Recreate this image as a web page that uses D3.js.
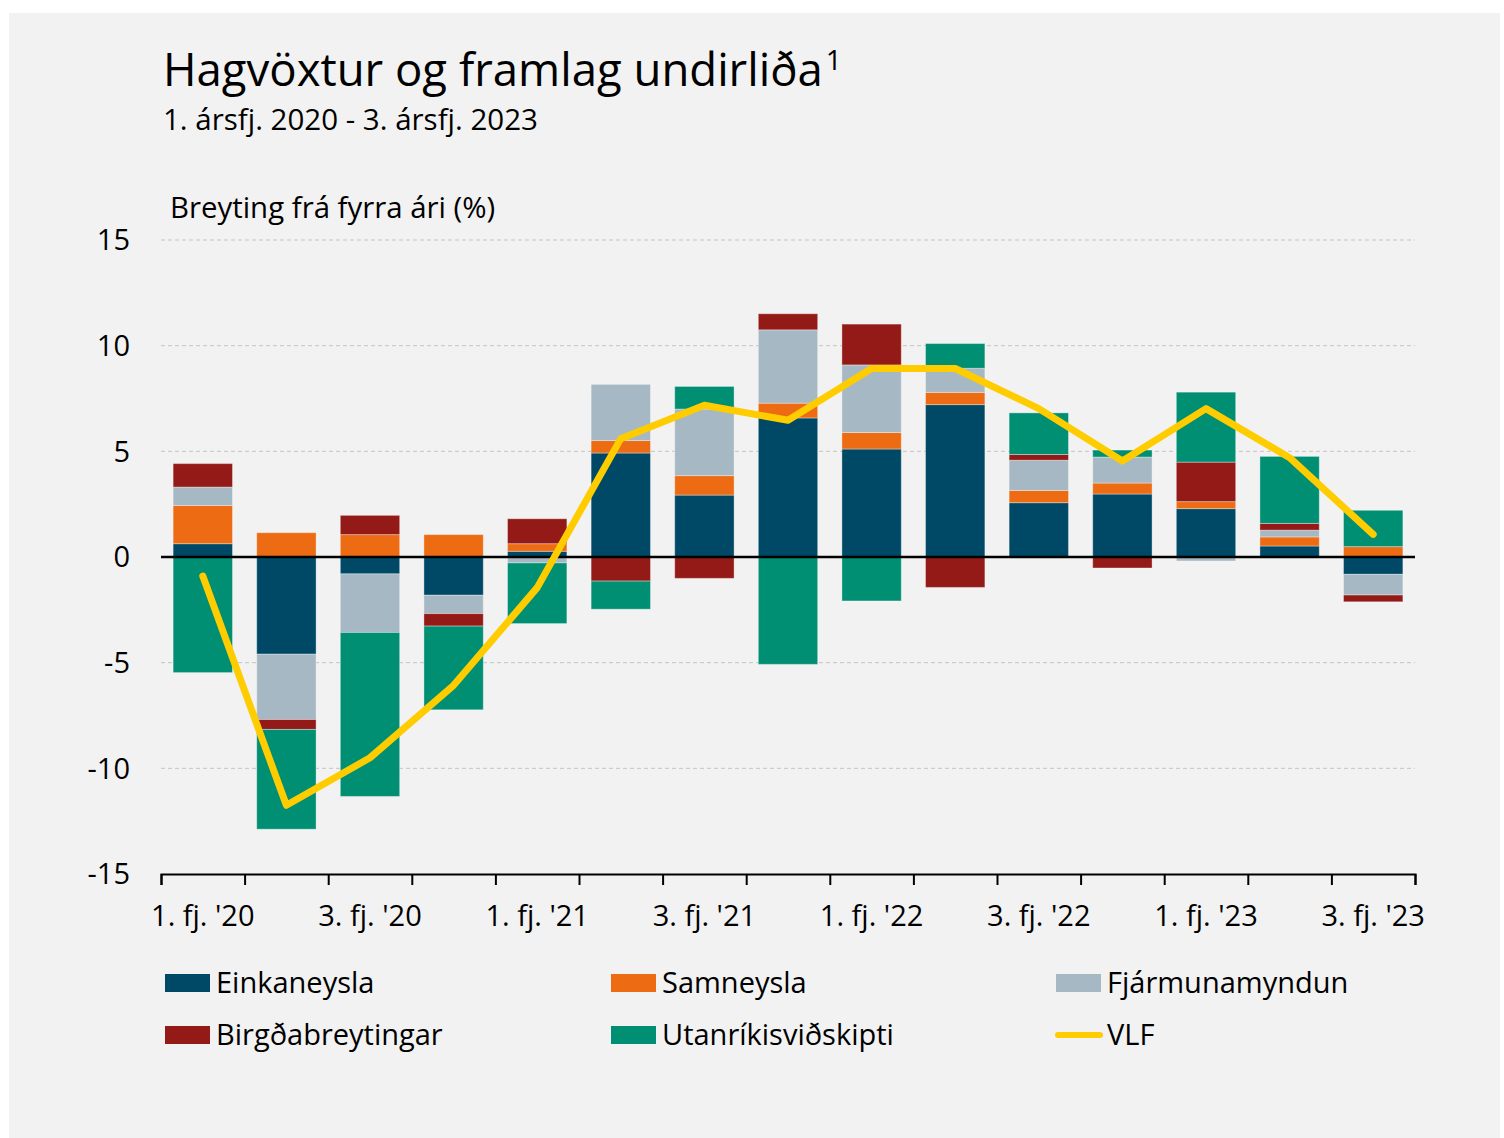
<!DOCTYPE html>
<html>
<head>
<meta charset="utf-8">
<script src="https://cdn.jsdelivr.net/npm/d3@7"></script>
<style>
  body { margin: 0; background: #ffffff; }
  svg text { font-family: "Open Sans", sans-serif; fill: #000; }
</style>
</head>
<body>
<script>
// quarters on the x axis
var quarters = ["1. fj. '20", "2. fj. '20", "3. fj. '20", "4. fj. '20",
                "1. fj. '21", "2. fj. '21", "3. fj. '21", "4. fj. '21",
                "1. fj. '22", "2. fj. '22", "3. fj. '22", "4. fj. '22",
                "1. fj. '23", "2. fj. '23", "3. fj. '23"];

// contributions (percentage points)
var einkaneysla = [0.63, -4.6, -0.8, -1.81, 0.27, 4.92, 2.93, 6.58, 5.11, 7.21, 2.57, 2.98, 2.29, 0.52, -0.82];
var samneysla = [1.81, 1.15, 1.06, 1.06, 0.36, 0.59, 0.92, 0.7, 0.78, 0.58, 0.58, 0.52, 0.33, 0.43, 0.49];
var fjarmunamyndun = [0.87, -3.09, -2.77, -0.87, -0.28, 2.66, 3.15, 3.47, 3.2, 1.14, 1.43, 1.23, -0.19, 0.32, -0.98];
var birgdabreytingar = [1.11, -0.47, 0.91, -0.59, 1.18, -1.14, -1.01, 0.76, 1.93, -1.44, 0.27, -0.52, 1.87, 0.32, -0.32];
var utanrikisvidskipti = [-5.47, -4.72, -7.76, -3.96, -2.87, -1.33, 1.07, -5.08, -2.08, 1.17, 1.97, 0.33, 3.31, 3.17, 1.72];
// GDP growth
var vlf = [-0.9, -11.75, -9.5, -6.07, -1.45, 5.6, 7.18, 6.47, 8.92, 8.92, 7.02, 4.54, 7.02, 4.7, 1.07];

var seriesNames = ["Einkaneysla", "Samneysla", "Fjármunamyndun", "Birgðabreytingar", "Utanríkisviðskipti"];
var seriesValues = [einkaneysla, samneysla, fjarmunamyndun, birgdabreytingar, utanrikisvidskipti];
var colors = ["#004966", "#EC6B13", "#A6B8C3", "#931A17", "#008F72"];
var lineColor = "#FFCC00";

var yTicks = [15, 10, 5, 0, -5, -10, -15];

var w = 1504, h = 1138;
var plotLeft = 161, plotRight = 1415, plotTop = 240, plotBottom = 874;

var svg = d3.select("body").append("svg")
  .attr("width", w)
  .attr("height", h);

// grey panel
svg.append("rect")
  .attr("x", 9).attr("y", 13)
  .attr("width", 1491).attr("height", 1125)
  .attr("fill", "#F2F2F2");

// titles
var title = svg.append("text")
  .attr("x", 163).attr("y", 86)
  .style("font-size", "45.5px");
title.append("tspan").text("Hagvöxtur og framlag undirliða");
title.append("tspan").attr("dx", 3).attr("dy", -16).style("font-size", "28px").text("1");

svg.append("text")
  .attr("x", 163).attr("y", 130)
  .style("font-size", "29.5px")
  .text("1. ársfj. 2020 - 3. ársfj. 2023");

svg.append("text")
  .attr("x", 170).attr("y", 218)
  .style("font-size", "29.4px")
  .text("Breyting frá fyrra ári (%)");

// scales
var x = d3.scaleBand()
  .domain(quarters)
  .range([plotLeft, plotRight])
  .paddingInner(0.29)
  .paddingOuter(0.145);

var y = d3.scaleLinear()
  .domain([-15, 15])
  .range([plotBottom, plotTop]);

// grid lines
svg.append("g")
  .selectAll("line")
  .data(yTicks.filter(function(d) { return d != 0 && d != -15; }))
  .enter().append("line")
  .attr("x1", plotLeft).attr("x2", plotRight)
  .attr("y1", function(d) { return y(d); })
  .attr("y2", function(d) { return y(d); })
  .attr("stroke", "#C4C4C4")
  .attr("stroke-width", 1)
  .attr("stroke-dasharray", "4,3");

// y labels
svg.append("g")
  .selectAll("text")
  .data(yTicks)
  .enter().append("text")
  .attr("x", 130)
  .attr("y", function(d) { return y(d); })
  .attr("dy", "0.36em")
  .attr("text-anchor", "end")
  .style("font-size", "29px")
  .text(function(d) { return d; });

// stacked bars
var table = quarters.map(function(q, i) {
  var row = { q: q };
  seriesNames.forEach(function(s, k) { row[s] = seriesValues[k][i]; });
  return row;
});

var stacked = d3.stack()
  .keys(seriesNames)
  .offset(d3.stackOffsetDiverging)(table);

svg.append("g")
  .selectAll("g")
  .data(stacked)
  .enter().append("g")
  .attr("fill", function(d, i) { return colors[i]; })
  .selectAll("rect")
  .data(function(d) { return d; })
  .enter().append("rect")
  .attr("x", function(d) { return x(d.data.q); })
  .attr("width", x.bandwidth())
  .attr("y", function(d) { return y(d[1]); })
  .attr("height", function(d) { return y(d[0]) - y(d[1]); })
  .attr("stroke", "#ffffff")
  .attr("stroke-opacity", 0.35)
  .attr("stroke-width", 1);

// zero line
svg.append("line")
  .attr("x1", plotLeft).attr("x2", plotRight)
  .attr("y1", y(0)).attr("y2", y(0))
  .attr("stroke", "#000").attr("stroke-width", 2.5);

// x axis with ticks between the quarters
var xTickScale = d3.scaleLinear().domain([0, quarters.length]).range([plotLeft, plotRight]);
var xAxis = d3.axisBottom(xTickScale)
  .tickValues(d3.range(quarters.length + 1))
  .tickSize(11)
  .tickSizeOuter(11)
  .tickFormat("");

var xg = svg.append("g")
  .attr("transform", "translate(0," + plotBottom + ")")
  .call(xAxis);
xg.select(".domain").attr("stroke", "#000").attr("stroke-width", 2);
xg.selectAll(".tick line").attr("stroke", "#000").attr("stroke-width", 2);

svg.append("g")
  .selectAll("text")
  .data(quarters.filter(function(d, i) { return i % 2 == 0; }))
  .enter().append("text")
  .attr("x", function(d) { return x(d) + x.bandwidth() / 2; })
  .attr("y", 926)
  .attr("text-anchor", "middle")
  .style("font-size", "29px")
  .text(function(d) { return d; });

// VLF line
var line = d3.line()
  .x(function(d, i) { return x(quarters[i]) + x.bandwidth() / 2; })
  .y(function(d) { return y(d); });

svg.append("path")
  .datum(vlf)
  .attr("d", line)
  .attr("fill", "none")
  .attr("stroke", lineColor)
  .attr("stroke-width", 7)
  .attr("stroke-linejoin", "round")
  .attr("stroke-linecap", "round");

// legend
var legendX = [165, 611, 1056];
var legendY = [983, 1035];
var legendItems = seriesNames.concat(["VLF"]);

var legend = svg.append("g")
  .selectAll("g")
  .data(legendItems)
  .enter().append("g")
  .attr("transform", function(d, i) {
    return "translate(" + legendX[i % 3] + "," + legendY[Math.floor(i / 3)] + ")";
  });

legend.each(function(d, i) {
  var g = d3.select(this);
  if (i < 5) {
    g.append("rect")
      .attr("x", 0).attr("y", -9)
      .attr("width", 45).attr("height", 18)
      .attr("fill", colors[i]);
  } else {
    g.append("line")
      .attr("x1", 2).attr("x2", 44)
      .attr("y1", 0).attr("y2", 0)
      .attr("stroke", lineColor)
      .attr("stroke-width", 6)
      .attr("stroke-linecap", "round");
  }
  g.append("text")
    .attr("x", 51)
    .attr("y", 0)
    .attr("dy", "0.36em")
    .style("font-size", "29px")
    .text(d);
});
</script>
</body>
</html>
